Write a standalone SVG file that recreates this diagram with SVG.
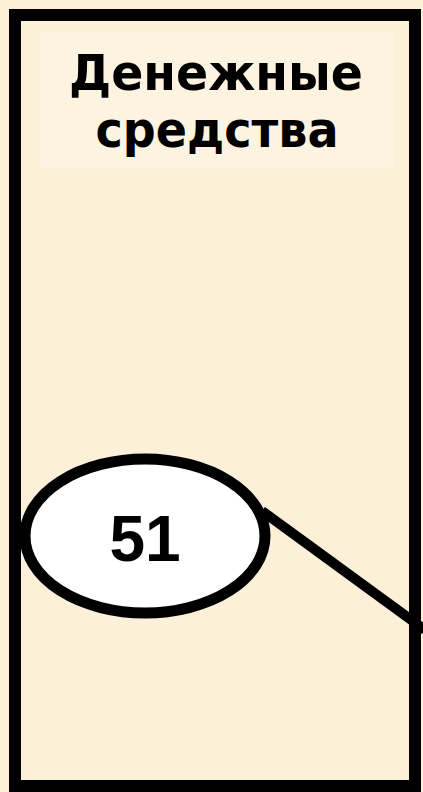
<svg xmlns="http://www.w3.org/2000/svg" width="423" height="792" viewBox="0 0 423 792">
<defs>
<style>
.title{font-family:"DejaVu Sans",Verdana,sans-serif;font-weight:bold;font-size:50px;fill:#000;text-anchor:middle}
.num{font-family:"Liberation Sans",Arial,sans-serif;font-weight:bold;font-size:64px;fill:#000;text-anchor:middle}
</style>
</defs>
<rect x="0" y="0" width="423" height="792" fill="#FCEFD7"/>
<g id="frame">
<rect x="15" y="15" width="400" height="771" fill="#FDF0D9" stroke="#000" stroke-width="12"/>
<rect x="40" y="33" width="355" height="135" fill="#FDF3E1"/>
<text class="title" x="216" y="90" textLength="294" lengthAdjust="spacingAndGlyphs">Денежные</text>
<text class="title" x="217" y="147" textLength="243" lengthAdjust="spacingAndGlyphs">средства</text>
</g>
<g id="connectors">
<line x1="262" y1="511" x2="425" y2="630" stroke="#000" stroke-width="10"/>
</g>
<g id="node51">
<ellipse cx="145" cy="536" rx="120" ry="77" fill="#fff" stroke="#000" stroke-width="11"/>
<text class="num" x="145" y="561">51</text>
</g>
</svg>
